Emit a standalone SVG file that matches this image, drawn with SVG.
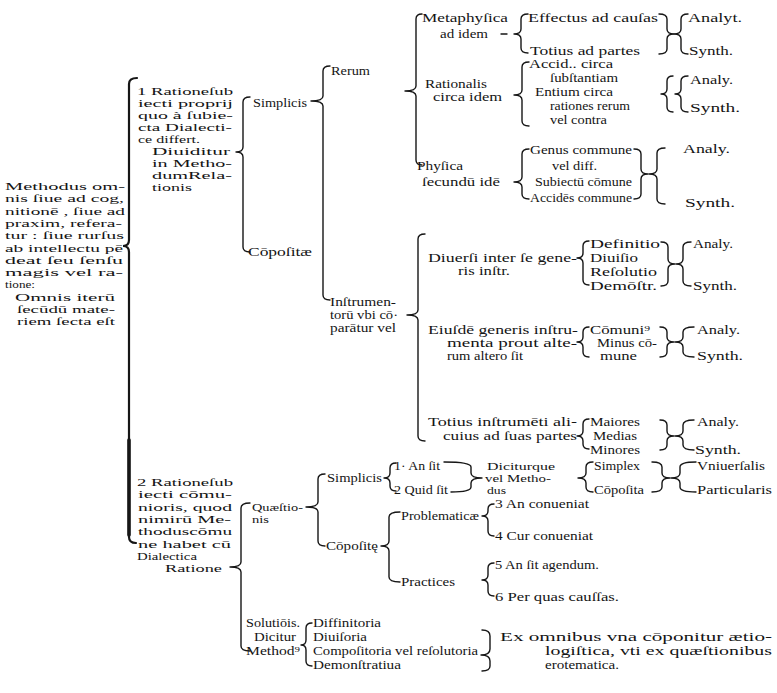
<svg xmlns="http://www.w3.org/2000/svg" width="777" height="693" viewBox="0 0 777 693">
<style>
.t{font-family:"Liberation Serif","DejaVu Serif",serif;font-size:12px;fill:#141414}
.s{font-size:11px}
.m{font-size:11.5px}
.b{fill:none;stroke:#161616;stroke-width:1.4;stroke-linecap:round;stroke-linejoin:round}
.k{fill:none;stroke:#161616;stroke-width:2.2;stroke-linecap:round}
</style>
<rect width="777" height="693" fill="#fff"/>
<g id="connectors">
<path class="k" d="M137,78 Q129,78 129,84 L129,240 Q129,246 123,246 Q129,246 129,252 L129,537 Q129,543 136,543"/>
<path class="k" style="stroke-width:3.6" d="M129,440 L129,535"/>
<path class="b" d="M250,97 Q243,97 243,102 L243,147 Q243,152 236,152 Q243,152 243,157 L243,247 Q243,252 250,252"/>
<path class="b" d="M330,66 Q323,66 323,71 L323,96 Q323,101 311,101 Q323,101 323,106 L323,295 Q323,300 330,300"/>
<path class="b" d="M422,14 Q416,14 416,19 L416,86 Q416,91 405,91 Q416,91 416,96 L416,160 Q416,165 422,165"/>
<path class="b" d="M528,14 Q521,14 521,19 L521,29 Q521,34 514,34 Q521,34 521,39 L521,48 Q521,53 528,53"/>
<path class="b" d="M501,34 L507,34"/>
<path class="b" d="M659,14 Q667,14 667,19 L667,29 Q667,34 674,34 Q667,34 667,39 L667,49 Q667,54 659,54"/>
<path class="b" d="M688,14 Q681,14 681,19 L681,29 Q681,34 674,34 Q681,34 681,39 L681,49 Q681,54 688,54"/>
<path class="b" d="M529,62 Q522,62 522,67 L522,90 Q522,95 514,95 Q522,95 522,100 L522,121 Q522,126 529,126"/>
<path class="b" d="M673,76 Q667,76 667,81 L667,89 Q667,94 661,94 Q667,94 667,99 L667,107 Q667,112 673,112"/>
<path class="b" d="M688,76 Q681,76 681,81 L681,89 Q681,94 675,94 Q681,94 681,99 L681,107 Q681,112 688,112"/>
<path class="b" d="M529,149 Q522,149 522,154 L522,177 Q522,182 514,182 Q522,182 522,187 L522,194 Q522,199 529,199"/>
<path class="b" d="M634,149 Q641,149 641,154 L641,169 Q641,174 648,174 Q641,174 641,179 L641,194 Q641,199 634,199"/>
<path class="b" d="M665,148 Q657,148 657,153 L657,169 Q657,174 649,174 Q657,174 657,179 L657,199 Q657,204 665,204"/>
<path class="b" d="M425,234 Q418,234 418,239 L418,310 Q418,315 407,315 Q418,315 418,320 L418,436 Q418,441 425,441"/>
<path class="b" d="M589,241 Q583,241 583,246 L583,253 Q583,258 577,258 Q583,258 583,263 L583,280 Q583,285 589,285"/>
<path class="b" d="M661,242 Q668,242 668,247 L668,259 Q668,264 675,264 Q668,264 668,269 L668,281 Q668,286 661,286"/>
<path class="b" d="M691,242 Q683,242 683,247 L683,259 Q683,264 676,264 Q683,264 683,269 L683,281 Q683,286 691,286"/>
<path class="b" d="M589,327 Q583,327 583,332 L583,337 Q583,342 577,342 Q583,342 583,347 L583,352 Q583,357 589,357"/>
<path class="b" d="M660,327 Q667,327 667,332 L667,337 Q667,342 674,342 Q667,342 667,347 L667,352 Q667,357 660,357"/>
<path class="b" d="M694,327 Q683,327 683,332 L683,337 Q683,342 675,342 Q683,342 683,347 L683,352 Q683,357 694,357"/>
<path class="b" d="M589,419 Q583,419 583,424 L583,431 Q583,436 577,436 Q583,436 583,441 L583,444 Q583,449 589,449"/>
<path class="b" d="M660,420 Q667,420 667,425 L667,431 Q667,436 674,436 Q667,436 667,441 L667,445 Q667,450 660,450"/>
<path class="b" d="M694,420 Q683,420 683,425 L683,431 Q683,436 675,436 Q683,436 683,441 L683,445 Q683,450 694,450"/>
<path class="b" d="M250,503 Q241,503 241,508 L241,562 Q241,567 230,567 Q241,567 241,572 L241,646 Q241,651 250,651"/>
<path class="b" d="M325,474 Q318,474 318,479 L318,502 Q318,507 306,507 Q318,507 318,512 L318,541 Q318,546 325,546"/>
<path class="b" d="M396,463 Q390,463 390,468 L390,473 Q390,478 384,478 Q390,478 390,483 L390,486 Q390,491 396,491"/>
<path class="b" d="M444,462 Q471,462 471,467 L471,473 Q471,478 482,478 Q471,478 471,483 L471,487 Q471,492 451,492"/>
<path class="b" d="M593,462 Q586,462 586,467 L586,473 Q586,478 578,478 Q586,478 586,483 L586,487 Q586,492 593,492"/>
<path class="b" d="M652,462 Q662,462 662,467 L662,473 Q662,478 670,478 Q662,478 662,483 L662,487 Q662,492 652,492"/>
<path class="b" d="M696,462 Q680,462 680,467 L680,473 Q680,478 671,478 Q680,478 680,483 L680,487 Q680,492 696,492"/>
<path class="b" d="M400,512 Q389,512 389,517 L389,541 Q389,546 381,546 Q389,546 389,551 L389,577 Q389,582 400,582"/>
<path class="b" d="M494,504 Q488,504 488,509 L488,511 Q488,516 482,516 Q488,516 488,521 L488,531 Q488,536 494,536"/>
<path class="b" d="M494,563 Q488,563 488,568 L488,575 Q488,580 482,580 Q488,580 488,585 L488,591 Q488,596 494,596"/>
<path class="b" d="M312,623 Q306,623 306,628 L306,640 Q306,645 301,645 Q306,645 306,650 L306,661 Q306,666 312,666"/>
<path class="b" d="M482,630 Q490,630 490,636 L490,649 Q490,655 481,655 Q490,655 490,661 L490,666 Q490,671 482,671"/>
</g>
<g id="methodus" class="t s">
<text x="5" y="190" textLength="120" lengthAdjust="spacingAndGlyphs">Methodus om-</text>
<text x="5" y="202.3" textLength="119" lengthAdjust="spacingAndGlyphs">nis ſiue ad cog,</text>
<text x="5" y="214.6" textLength="120" lengthAdjust="spacingAndGlyphs">nitionē , ſiue ad</text>
<text x="5" y="226.9" textLength="117" lengthAdjust="spacingAndGlyphs">praxim, refera-</text>
<text x="5" y="239.2" textLength="119" lengthAdjust="spacingAndGlyphs">tur : ſiue rurſus</text>
<text x="5" y="251.5" textLength="118" lengthAdjust="spacingAndGlyphs">ab intellectu pē</text>
<text x="5" y="263.8" textLength="118" lengthAdjust="spacingAndGlyphs">deat ſeu ſenſu</text>
<text x="5" y="276.1" textLength="118" lengthAdjust="spacingAndGlyphs">magis vel ra-</text>
<text x="5" y="288.4" textLength="30" lengthAdjust="spacingAndGlyphs">tione:</text>
<text x="15" y="300.7" textLength="100" lengthAdjust="spacingAndGlyphs">Omnis iterū</text>
<text x="17" y="313" textLength="98" lengthAdjust="spacingAndGlyphs">ſecūdū mate-</text>
<text x="17" y="325.3" textLength="98" lengthAdjust="spacingAndGlyphs">riem ſecta eſt</text>
</g>
<g id="ratio1" class="t s">
<text x="137" y="95" textLength="96" lengthAdjust="spacingAndGlyphs">1 Rationeſub</text>
<text x="138" y="107" textLength="95" lengthAdjust="spacingAndGlyphs">iecti proprij</text>
<text x="138" y="119" textLength="95" lengthAdjust="spacingAndGlyphs">quo à ſubie-</text>
<text x="138" y="131" textLength="94" lengthAdjust="spacingAndGlyphs">cta Dialecti-</text>
<text x="138" y="143" textLength="62" lengthAdjust="spacingAndGlyphs">ce differt.</text>
<text x="152" y="155" textLength="78" lengthAdjust="spacingAndGlyphs">Diuiditur</text>
<text x="152" y="167" textLength="80" lengthAdjust="spacingAndGlyphs">in Metho-</text>
<text x="152" y="179" textLength="80" lengthAdjust="spacingAndGlyphs">dumRela-</text>
<text x="152" y="191" textLength="40" lengthAdjust="spacingAndGlyphs">tionis</text>
</g>
<g id="simplicis" class="t"><text x="253" y="107" textLength="54" lengthAdjust="spacingAndGlyphs">Simplicis</text></g>
<g id="composita" class="t"><text x="248" y="256" textLength="64" lengthAdjust="spacingAndGlyphs">Cōpoſitæ</text></g>
<g id="rerum" class="t"><text x="331" y="75" textLength="39" lengthAdjust="spacingAndGlyphs">Rerum</text></g>
<g id="instrumentorum" class="t m">
<text x="330" y="306" textLength="66" lengthAdjust="spacingAndGlyphs">Inſtrumen-</text>
<text x="330" y="319" textLength="68" lengthAdjust="spacingAndGlyphs">torū vbi cō·</text>
<text x="330" y="332" textLength="66" lengthAdjust="spacingAndGlyphs">parātur vel</text>
</g>
<g id="metaphysica" class="t">
<text x="422" y="22" textLength="86" lengthAdjust="spacingAndGlyphs">Metaphyſica</text>
<text x="440" y="38" textLength="48" lengthAdjust="spacingAndGlyphs">ad idem</text>
</g>
<g id="rationalis" class="t m">
<text x="425" y="88" textLength="62" lengthAdjust="spacingAndGlyphs">Rationalis</text>
<text x="433" y="101" textLength="69" lengthAdjust="spacingAndGlyphs">circa idem</text>
</g>
<g id="physica" class="t">
<text x="417" y="170" textLength="46" lengthAdjust="spacingAndGlyphs">Phyſica</text>
<text x="422" y="186" textLength="78" lengthAdjust="spacingAndGlyphs">ſecundū idē</text>
</g>
<g id="meta-items" class="t">
<text x="528" y="22" textLength="130" lengthAdjust="spacingAndGlyphs">Effectus ad cauſas</text>
<text x="530" y="55" textLength="110" lengthAdjust="spacingAndGlyphs">Totius ad partes</text>
</g>
<g id="meta-as" class="t">
<text x="688" y="22" textLength="54" lengthAdjust="spacingAndGlyphs">Analyt.</text>
<text x="689" y="55" textLength="44" lengthAdjust="spacingAndGlyphs">Synth.</text>
</g>
<g id="rat-items" class="t">
<text x="529" y="68" textLength="84" lengthAdjust="spacingAndGlyphs">Accid.. circa</text>
<text x="550" y="82" textLength="68" lengthAdjust="spacingAndGlyphs">ſubſtantiam</text>
<text x="535" y="96" textLength="78" lengthAdjust="spacingAndGlyphs">Entium circa</text>
<text x="550" y="110" textLength="80" lengthAdjust="spacingAndGlyphs">rationes rerum</text>
<text x="550" y="124" textLength="57" lengthAdjust="spacingAndGlyphs">vel contra</text>
</g>
<g id="rat-as" class="t">
<text x="690" y="84" textLength="43" lengthAdjust="spacingAndGlyphs">Analy.</text>
<text x="690" y="112" textLength="50" lengthAdjust="spacingAndGlyphs">Synth.</text>
</g>
<g id="phys-items" class="t">
<text x="530" y="154" textLength="102" lengthAdjust="spacingAndGlyphs">Genus commune</text>
<text x="552" y="170" textLength="45" lengthAdjust="spacingAndGlyphs">vel diff.</text>
<text x="535" y="186" textLength="97" lengthAdjust="spacingAndGlyphs">Subiectū cōmune</text>
<text x="530" y="202" textLength="102" lengthAdjust="spacingAndGlyphs">Accidēs commune</text>
</g>
<g id="phys-as" class="t">
<text x="683" y="153" textLength="47" lengthAdjust="spacingAndGlyphs">Analy.</text>
<text x="685" y="207" textLength="50" lengthAdjust="spacingAndGlyphs">Synth.</text>
</g>
<g id="diuersi" class="t m">
<text x="428" y="262" textLength="149" lengthAdjust="spacingAndGlyphs">Diuerſi inter ſe gene-</text>
<text x="458" y="275" textLength="52" lengthAdjust="spacingAndGlyphs">ris inſtr.</text>
</g>
<g id="diuersi-items" class="t">
<text x="590" y="248" textLength="70" lengthAdjust="spacingAndGlyphs">Definitio</text>
<text x="590" y="262" textLength="48" lengthAdjust="spacingAndGlyphs">Diuiſio</text>
<text x="590" y="276" textLength="67" lengthAdjust="spacingAndGlyphs">Reſolutio</text>
<text x="590" y="290" textLength="67" lengthAdjust="spacingAndGlyphs">Demōſtr.</text>
</g>
<g id="diuersi-as" class="t">
<text x="693" y="248" textLength="40" lengthAdjust="spacingAndGlyphs">Analy.</text>
<text x="693" y="290" textLength="44" lengthAdjust="spacingAndGlyphs">Synth.</text>
</g>
<g id="eiusdem" class="t m">
<text x="428" y="334" textLength="150" lengthAdjust="spacingAndGlyphs">Eiuſdē generis inſtru-</text>
<text x="447" y="347" textLength="130" lengthAdjust="spacingAndGlyphs">menta prout alte-</text>
<text x="447" y="360" textLength="76" lengthAdjust="spacingAndGlyphs">rum altero ſit</text>
</g>
<g id="eiusdem-items" class="t m">
<text x="590" y="334" textLength="60" lengthAdjust="spacingAndGlyphs">Cōmuni⁹</text>
<text x="597" y="347" textLength="60" lengthAdjust="spacingAndGlyphs">Minus cō-</text>
<text x="600" y="360" textLength="37" lengthAdjust="spacingAndGlyphs">mune</text>
</g>
<g id="eiusdem-as" class="t">
<text x="697" y="334" textLength="43" lengthAdjust="spacingAndGlyphs">Analy.</text>
<text x="697" y="360" textLength="46" lengthAdjust="spacingAndGlyphs">Synth.</text>
</g>
<g id="totius" class="t">
<text x="428" y="426" textLength="149" lengthAdjust="spacingAndGlyphs">Totius inſtrumēti ali-</text>
<text x="443" y="440" textLength="134" lengthAdjust="spacingAndGlyphs">cuius ad ſuas partes</text>
</g>
<g id="totius-items" class="t">
<text x="590" y="426" textLength="50" lengthAdjust="spacingAndGlyphs">Maiores</text>
<text x="593" y="440" textLength="44" lengthAdjust="spacingAndGlyphs">Medias</text>
<text x="590" y="454" textLength="50" lengthAdjust="spacingAndGlyphs">Minores</text>
</g>
<g id="totius-as" class="t">
<text x="697" y="426" textLength="42" lengthAdjust="spacingAndGlyphs">Analy.</text>
<text x="695" y="454" textLength="46" lengthAdjust="spacingAndGlyphs">Synth.</text>
</g>
<g id="ratio2" class="t s">
<text x="137" y="486" textLength="96" lengthAdjust="spacingAndGlyphs">2 Rationeſub</text>
<text x="138" y="498.3" textLength="94" lengthAdjust="spacingAndGlyphs">iecti cōmu-</text>
<text x="138" y="510.6" textLength="94" lengthAdjust="spacingAndGlyphs">nioris, quod</text>
<text x="138" y="522.9" textLength="93" lengthAdjust="spacingAndGlyphs">nimirū Me-</text>
<text x="138" y="535.2" textLength="94" lengthAdjust="spacingAndGlyphs">thoduscōmu</text>
<text x="138" y="547.5" textLength="93" lengthAdjust="spacingAndGlyphs">ne habet cū</text>
<text x="137" y="559.8" textLength="60" lengthAdjust="spacingAndGlyphs">Dialectica</text>
<text x="165" y="572.1" textLength="57" lengthAdjust="spacingAndGlyphs">Ratione</text>
</g>
<g id="quaestionis" class="t s">
<text x="252" y="511" textLength="51" lengthAdjust="spacingAndGlyphs">Quæſtio-</text>
<text x="252" y="523" textLength="17" lengthAdjust="spacingAndGlyphs">nis</text>
</g>
<g id="q-simplicis" class="t"><text x="327" y="482" textLength="55" lengthAdjust="spacingAndGlyphs">Simplicis</text></g>
<g id="q-simp-items" class="t">
<text x="394" y="470" textLength="46" lengthAdjust="spacingAndGlyphs">1· An ſit</text>
<text x="394" y="494" textLength="54" lengthAdjust="spacingAndGlyphs">2 Quid ſit</text>
</g>
<g id="diciturque" class="t s">
<text x="487" y="470" textLength="68" lengthAdjust="spacingAndGlyphs">Diciturque</text>
<text x="485" y="482" textLength="66" lengthAdjust="spacingAndGlyphs">vel Metho-</text>
<text x="487" y="494" textLength="19" lengthAdjust="spacingAndGlyphs">dus</text>
</g>
<g id="simplex" class="t">
<text x="594" y="470" textLength="46" lengthAdjust="spacingAndGlyphs">Simplex</text>
<text x="594" y="494" textLength="50" lengthAdjust="spacingAndGlyphs">Cōpoſita</text>
</g>
<g id="vniuersalis" class="t">
<text x="697" y="470" textLength="68" lengthAdjust="spacingAndGlyphs">Vniuerſalis</text>
<text x="697" y="494" textLength="75" lengthAdjust="spacingAndGlyphs">Particularis</text>
</g>
<g id="q-composita" class="t"><text x="326" y="550" textLength="52" lengthAdjust="spacingAndGlyphs">Cōpoſitę</text></g>
<g id="problematicae" class="t"><text x="401" y="520" textLength="78" lengthAdjust="spacingAndGlyphs">Problematicæ</text></g>
<g id="prob-items" class="t">
<text x="495" y="508" textLength="94" lengthAdjust="spacingAndGlyphs">3 An conueniat</text>
<text x="495" y="540" textLength="98" lengthAdjust="spacingAndGlyphs">4 Cur conueniat</text>
</g>
<g id="practices" class="t"><text x="401" y="586" textLength="54" lengthAdjust="spacingAndGlyphs">Practices</text></g>
<g id="pract-items" class="t">
<text x="495" y="569" textLength="104" lengthAdjust="spacingAndGlyphs">5 An ſit agendum.</text>
<text x="495" y="601" textLength="124" lengthAdjust="spacingAndGlyphs">6 Per quas cauſſas.</text>
</g>
<g id="solutionis" class="t">
<text x="246" y="627" textLength="54" lengthAdjust="spacingAndGlyphs">Solutiōis.</text>
<text x="254" y="641" textLength="42" lengthAdjust="spacingAndGlyphs">Dicitur</text>
<text x="246" y="655" textLength="54" lengthAdjust="spacingAndGlyphs">Method⁹</text>
</g>
<g id="sol-items" class="t">
<text x="313" y="627" textLength="68" lengthAdjust="spacingAndGlyphs">Diffinitoria</text>
<text x="313" y="641" textLength="54" lengthAdjust="spacingAndGlyphs">Diuiſoria</text>
<text x="313" y="655" textLength="165" lengthAdjust="spacingAndGlyphs">Compoſitoria vel reſolutoria</text>
<text x="313" y="669" textLength="88" lengthAdjust="spacingAndGlyphs">Demonſtratiua</text>
</g>
<g id="ex-omnibus" class="t">
<text x="500" y="641" textLength="272" lengthAdjust="spacingAndGlyphs">Ex omnibus vna cōponitur ætio-</text>
<text x="545" y="655" textLength="227" lengthAdjust="spacingAndGlyphs">logiſtica, vti ex quæſtionibus</text>
<text x="545" y="669" textLength="74" lengthAdjust="spacingAndGlyphs">erotematica.</text>
</g>
</svg>
